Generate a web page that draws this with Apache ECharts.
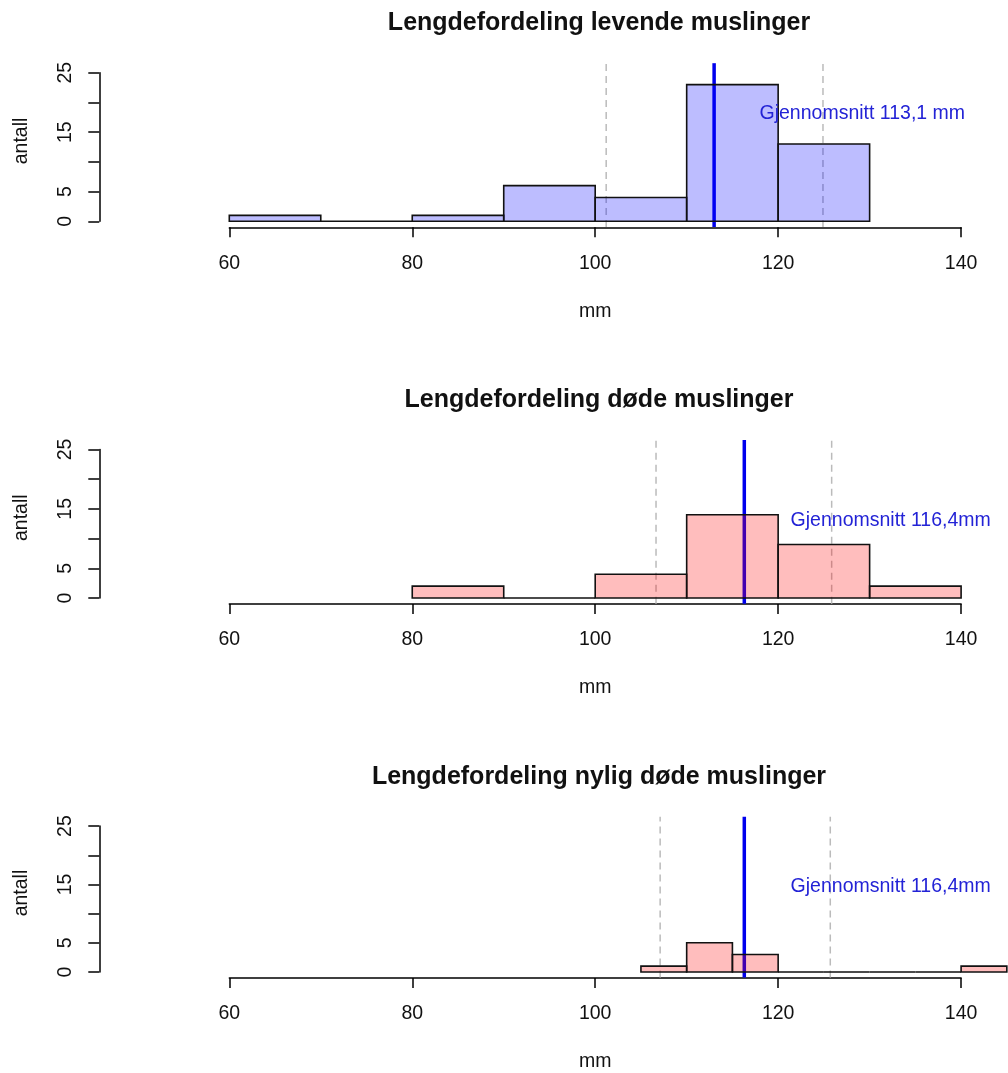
<!DOCTYPE html>
<html><head><meta charset="utf-8">
<script src="https://cdn.jsdelivr.net/npm/echarts@6/dist/echarts.min.js"></script>
<style>html,body{margin:0;padding:0;background:#fff}#c{width:1008px;height:1073px}</style>
</head><body><div id="c"></div>
<script>
// ---- data ----
const titles = ['Lengdefordeling levende muslinger', 'Lengdefordeling døde muslinger', 'Lengdefordeling nylig døde muslinger'];
const edges1 = [60, 70, 80, 90, 100, 110, 120, 130];
const counts1 = [1, 0, 1, 6, 4, 23, 13];
const edges2 = [80, 90, 100, 110, 120, 130, 140];
const counts2 = [2, 0, 4, 14, 9, 2];
const edges3 = [105, 110, 115, 120, 125, 130, 135, 140, 145];
const counts3 = [1, 5, 3, 0, 0, 0, 0, 1];
const means = [113.0, 116.3, 116.3];
const sdLow = [101.2, 106.65, 107.1];
const sdHigh = [124.9, 125.85, 125.7];
const meanLabels = ['Gjennomsnitt 113,1 mm', 'Gjennomsnitt 116,4mm', 'Gjennomsnitt 116,4mm'];
const labelX = [129.2, 132.3, 132.3];
const labelY = [18.1, 13.0, 14.7];
const yTicksShown = [0, 5, 15, 25];
const xAxisName = 'mm';
const yAxisName = 'antall';

// ---- layout / style ----
const PITCH = 376.7, GRID_TOP = 72.7, GRID_H = 148.6, GRID_LEFT = 229.3, GRID_W = 731.8;
const REGION_LO = -0.96, REGION_HI = 26.6;
const fills = ['rgba(0,0,255,0.26)', 'rgba(255,0,0,0.26)', 'rgba(255,0,0,0.26)'];
const FONT = '"Liberation Sans", Arial, sans-serif';

const allEdges = [edges1, edges2, edges3];
const allCounts = [counts1, counts2, counts3];

const chart = echarts.init(document.getElementById('c'), null, {renderer: 'canvas'});

const grid = [], xAxis = [], yAxis = [], series = [], title = [];
for (let i = 0; i < 3; i++) {
  grid.push({left: GRID_LEFT, width: GRID_W, top: GRID_TOP + PITCH * i, height: GRID_H});
  title.push({
    text: titles[i], left: 594, top: 6 + PITCH * i, textAlign: 'center',
    textStyle: {fontFamily: FONT, fontSize: 25, fontWeight: 'bold', color: '#111'}
  });
  xAxis.push({
    gridIndex: i, type: 'value', min: 60, max: 140, interval: 20, offset: 6,
    axisLine: {onZero: false, lineStyle: {color: '#000', width: 1.5}},
    axisTick: {length: 10, lineStyle: {color: '#000', width: 1.5}},
    axisLabel: {fontFamily: FONT, fontSize: 19.5, color: '#111', margin: 26},
    splitLine: {show: false},
    name: xAxisName, nameLocation: 'middle', nameGap: 74,
    nameTextStyle: {fontFamily: FONT, fontSize: 19.5, color: '#111'}
  });
  yAxis.push({
    gridIndex: i, type: 'value', min: 0, max: 25, interval: 5, offset: 130,
    axisLine: {show: true, onZero: false, lineStyle: {color: '#000', width: 1.5}},
    axisTick: {show: true, length: 11, lineStyle: {color: '#000', width: 1.5}},
    axisLabel: {
      fontFamily: FONT, fontSize: 19.5, color: '#111', rotate: 90, margin: 24,
      formatter: v => yTicksShown.indexOf(v) >= 0 ? String(v) : ''
    },
    splitLine: {show: false},
    name: yAxisName, nameLocation: 'middle', nameGap: 68, nameRotate: 90,
    nameTextStyle: {fontFamily: FONT, fontSize: 19.5, color: '#111', padding: [0, 0, 0, 12]}
  });

  // vertical lines (mean and mean ± sd), drawn under the bars
  const vdata = [[means[i], 0], [sdLow[i], 1], [sdHigh[i], 1]];
  series.push({
    type: 'custom', xAxisIndex: i, yAxisIndex: i, clip: false, z: 1, silent: true,
    data: vdata, encode: {x: 0},
    renderItem: (params, api) => {
      const v = api.value(0), kind = api.value(1);
      const a = api.coord([v, REGION_LO]), b = api.coord([v, REGION_HI]);
      return {
        type: 'line', shape: {x1: a[0], y1: a[1], x2: b[0], y2: b[1]},
        style: kind === 0 ? {stroke: '#0000ee', lineWidth: 3.5}
                          : {stroke: '#bbbbbb', lineWidth: 1.5, lineDash: [7, 5]}
      };
    }
  });

  // histogram bars
  const bdata = allCounts[i].map((c, k) => [allEdges[i][k], allEdges[i][k + 1], c]);
  series.push({
    type: 'custom', xAxisIndex: i, yAxisIndex: i, clip: false, z: 2, silent: true,
    data: bdata, encode: {x: [0, 1], y: 2},
    renderItem: (params, api) => {
      const p0 = api.coord([api.value(0), api.value(2)]);
      const p1 = api.coord([api.value(1), 0]);
      return {
        type: 'rect',
        shape: {x: p0[0], y: p0[1], width: p1[0] - p0[0], height: p1[1] - p0[1]},
        style: {fill: fills[i], stroke: '#111', lineWidth: 1.6}
      };
    }
  });

  // mean label
  series.push({
    type: 'custom', xAxisIndex: i, yAxisIndex: i, clip: false, z: 3, silent: true,
    data: [[labelX[i], labelY[i]]], encode: {x: 0, y: 1},
    renderItem: (params, api) => {
      const p = api.coord([api.value(0), api.value(1)]);
      return {
        type: 'text', x: p[0], y: p[1],
        style: {text: meanLabels[i], fill: '#2323d6', font: '19.5px ' + FONT, align: 'center', verticalAlign: 'middle'}
      };
    }
  });
}

chart.setOption({animation: false, backgroundColor: '#fff', title, grid, xAxis, yAxis, series});
</script></body></html>
